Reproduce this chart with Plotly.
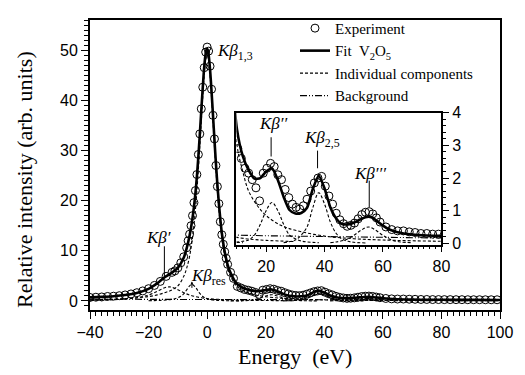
import plotly.graph_objects as go

# ---------------- data ----------------
# measured spectrum (open circles)
exp_x = [-40, -38, -36, -34, -32, -30, -28, -26, -24, -22, -20, -18, -16, -14, -12,
         -11, -10, -9, -8, -7, -6.5, -6, -5.5, -5, -4.5, -4, -3.5, -3, -2.5, -2,
         -1.5, -1, -0.5, 0, 0.5, 1, 1.5, 2, 2.5, 3, 3.5, 4, 4.5, 5, 5.5,
         6, 6.5, 7, 8, 9, 10.3, 11.5, 12.75, 14, 15.25, 16.5, 17.75, 19, 20.25,
         21.5, 22.75, 24, 25.25, 26.5, 27.75, 29, 30.25, 31.5, 32.75, 34, 35.25,
         36.5, 37.75, 39, 40.25, 41.5, 42.75, 44, 45.25, 46.5, 47.75, 49, 50.25,
         51.5, 52.75, 54, 55.25, 56.5, 57.75, 59, 61, 63, 65, 67, 69, 71, 73, 75,
         77, 79, 81, 83, 85, 87, 89, 91, 93, 95, 97, 99]
exp_y = [0.7, 0.75, 0.8, 0.9, 0.95, 1.05, 1.2, 1.4, 1.65, 2.0, 2.45, 3.1, 3.9, 4.9, 5.7,
         6.0, 6.6, 7.6, 8.8, 10.6, 12.0, 13.3, 15.0, 17.0, 19.6, 22.0, 25.2, 29.2, 33.3, 38.3,
         42.6, 46.5, 49.6, 50.6, 49.8, 46.8, 42.2, 37.0, 32.3, 27.0, 22.8, 19.4, 15.8, 13.2, 11.3,
         9.8, 8.5, 7.3, 5.7, 4.5, 2.9, 2.6, 2.3, 2.15, 1.95, 1.7, 1.3, 2.15, 2.3,
         2.45, 2.35, 2.1, 1.95, 1.65, 1.4, 1.2, 1.1, 1.05, 1.15, 1.35, 1.6,
         1.85, 2.0, 2.05, 1.75, 1.45, 1.2, 0.92, 0.72, 0.6, 0.52, 0.55, 0.62,
         0.75, 0.88, 0.95, 0.97, 0.9, 0.78, 0.65, 0.5, 0.42, 0.38, 0.38, 0.35, 0.33, 0.3, 0.3,
         0.28, 0.28, 0.27, 0.27, 0.26, 0.26, 0.25, 0.25, 0.25, 0.24, 0.24, 0.24]

# total fit curve
fit_x = [-40, -36, -32, -28, -24, -20, -17, -14.5, -12, -10,
         -8, -7, -6, -5, -4, -3.5, -3, -2.5, -2, -1.5,
         -1, -0.5, 0, 0.5, 1, 1.5, 2, 2.5, 3, 3.5,
         4, 4.5, 5, 6, 7, 8, 10, 12, 14, 16,
         18, 20, 22, 24, 26, 28, 30, 32, 34, 36,
         38, 40, 42, 44, 46, 48, 50, 52, 54, 56,
         58, 60, 62, 65, 70, 75, 80, 90, 100]
fit_y = [0.72, 0.81, 0.95, 1.19, 1.61, 2.42, 3.55, 4.74, 5.66, 6.6,
         8.6, 10.5, 13.0, 16.5, 21.5, 24.8, 28.8, 33.2, 38.0, 42.5,
         46.6, 49.3, 50.2, 49.1, 46.1, 41.8, 37.0, 32.1, 27.4, 23.2,
         19.5, 16.3, 13.6, 9.8, 7.2, 5.6, 3.5, 2.67, 2.24, 1.98,
         2.0, 2.2, 2.3, 1.94, 1.42, 1.02, 0.91, 0.93, 1.09, 1.67,
         2.07, 1.68, 1.1, 0.76, 0.59, 0.58, 0.63, 0.72, 0.8, 0.8,
         0.68, 0.54, 0.43, 0.34, 0.27, 0.24, 0.23, 0.21, 0.19]

# individual components
k13_x = [-40, -30, -24, -20, -17, -14, -12, -10, -8, -7, -6, -5, -4, -3.5, -3, -2.5, -2,
         -1.5, -1, -0.5, 0, 0.5, 1, 1.5, 2, 2.5, 3, 3.5, 4, 5, 6, 7, 8, 10, 12,
         14, 17, 20, 25, 30, 40, 50, 60, 80, 100]
k13_y = [0.22, 0.4, 0.62, 0.88, 1.21, 1.75, 2.2, 3.0, 4.9, 6.5, 8.9, 12.6, 18.2, 21.9, 26.2, 30.8, 35.8,
         40.6, 44.9, 47.9, 49.0, 47.9, 44.9, 40.6, 35.8, 30.8, 26.2, 21.9, 18.2, 12.6, 8.9, 6.5, 4.9, 3.0, 2.2,
         1.6, 1.15, 0.85, 0.55, 0.4, 0.22, 0.14, 0.1, 0.06, 0.04]

kp_x = [-40, -36, -32, -28, -24, -20, -17, -14.5, -13, -12, -10, -8, -6, -4, -2, 0, 2, 4, 6, 8, 10, 14, 20, 30]
kp_y = [0.13, 0.18, 0.25, 0.39, 0.64, 1.19, 1.94, 2.64, 2.8, 2.72, 2.24, 1.65, 1.19, 0.86, 0.64, 0.49, 0.39, 0.31,
        0.25, 0.21, 0.18, 0.13, 0.09, 0.05]

res_x = [-20, -16, -13, -11, -9, -8, -7, -6, -5.2, -4, -3.5, -3, -2.5, -2, -1.5, -1, 0, 1, 2, 3, 5, 8, 12]
res_y = [0.05, 0.12, 0.25, 0.45, 0.95, 1.4, 2.2, 3.0, 3.3, 2.75, 2.35, 1.9, 1.5, 1.15, 0.9, 0.7, 0.42, 0.27,
         0.18, 0.13, 0.08, 0.04, 0.02]

kpp_x = [8, 12, 14, 16, 18, 20, 22, 24, 26, 28, 30, 32, 34, 38]
kpp_y = [0.02, 0.06, 0.1, 0.25, 0.58, 1.0, 1.25, 1.0, 0.58, 0.25, 0.14, 0.07, 0.04, 0.02]

k25_x = [26, 30, 32, 34, 36, 38, 40, 42, 44, 46, 48, 50, 54]
k25_y = [0.02, 0.1, 0.25, 0.5, 1.1, 1.55, 1.2, 0.65, 0.3, 0.13, 0.06, 0.03, 0.01]

kppp_x = [42, 44, 47, 50, 52.5, 55, 57.5, 60, 63, 66, 70]
kppp_y = [0.02, 0.04, 0.1, 0.24, 0.4, 0.5, 0.4, 0.24, 0.1, 0.04, 0.02]

bg_x = [-40, -20, 0, 20, 40, 60, 80, 100]
bg_y = [0.35, 0.3, 0.27, 0.23, 0.2, 0.18, 0.16, 0.15]

components = [(k13_x, k13_y), (kp_x, kp_y), (res_x, res_y), (kpp_x, kpp_y), (k25_x, k25_y), (kppp_x, kppp_y)]

# axis settings
main_xrange = [-40, 100]
main_yrange = [-1.8, 56]
inset_xrange = [9.8, 80]
inset_yrange = [-0.04, 4.0]
main_xticks = [-40, -20, 0, 20, 40, 60, 80, 100]
main_yticks = [0, 10, 20, 30, 40, 50]
inset_xticks = [20, 40, 60, 80]
inset_yticks = [0, 1, 2, 3, 4]

# peak labels: (text, text x, text y, anchor)
main_labels = [
    ("<i>Kβ</i><sub>1,3</sub>", 2.6, 49.6, "left"),
    ("<i>Kβ′</i>", -16.6, 12.7, "center"),
    ("<i>Kβ</i><sub>res</sub>", -6.1, 4.8, "left"),
]
# leader lines: (x, top, bottom)
main_leaders = [(-14.6, 10.9, 4.9)]
inset_labels = [
    ("<i>Kβ′′</i>", 22.6, 3.68, "center"),
    ("<i>Kβ</i><sub>2,5</sub>", 39.0, 3.2, "center"),
    ("<i>Kβ′′′</i>", 55.6, 2.15, "center"),
]
inset_leaders = [(21.7, 3.25, 2.66), (37.6, 2.84, 2.3), (55.3, 1.92, 1.11)]
res_arrow = (-5.2, 3.9)

SERIF = "Liberation Serif"
SANS = "Liberation Sans"

fig = go.Figure()


def add_traces(xa, ya, legend):
    for i, (cx, cy) in enumerate(components):
        fig.add_trace(go.Scatter(
            x=cx, y=cy, mode="lines", line=dict(color="black", width=1.1, dash="3px,2px", shape="spline"),
            name="Individual components", legendgroup="comp", legendrank=3,
            showlegend=legend and i == 0, xaxis=xa, yaxis=ya, hoverinfo="skip"))
    fig.add_trace(go.Scatter(
        x=bg_x, y=bg_y, mode="lines",
        line=dict(color="black", width=1.1, dash="7px,2px,1px,2px,1px,2px"),
        name="Background", legendrank=4, showlegend=legend, xaxis=xa, yaxis=ya))
    fig.add_trace(go.Scatter(
        x=fit_x, y=fit_y, mode="lines", line=dict(color="black", width=2.6, shape="spline", smoothing=0.6),
        name="Fit  V<sub>2</sub>O<sub>5</sub>", legendrank=2, showlegend=legend, xaxis=xa, yaxis=ya))
    fig.add_trace(go.Scatter(
        x=exp_x, y=exp_y, mode="markers",
        marker=dict(symbol="circle-open", size=8, color="black", line=dict(width=1)),
        name="Experiment", legendrank=1, showlegend=legend, xaxis=xa, yaxis=ya))


add_traces("x", "y", True)
add_traces("x2", "y2", False)

# white panel behind the inset
fig.add_shape(type="rect", xref="x2", yref="y2",
              x0=inset_xrange[0], x1=inset_xrange[1], y0=inset_yrange[0], y1=inset_yrange[1],
              fillcolor="white", line=dict(width=0), layer="below")

for lx, ytop, ybot in main_leaders:
    fig.add_shape(type="line", xref="x", yref="y", x0=lx, x1=lx, y0=ytop, y1=ybot,
                  line=dict(color="black", width=1))
for lx, ytop, ybot in inset_leaders:
    fig.add_shape(type="line", xref="x2", yref="y2", x0=lx, x1=lx, y0=ytop, y1=ybot,
                  line=dict(color="black", width=1))

for txt, tx, ty, anc in main_labels:
    fig.add_annotation(text=txt, x=tx, y=ty, xref="x", yref="y", xanchor=anc, yanchor="middle",
                       showarrow=False, font=dict(family=SERIF, size=17, color="black"))
for txt, tx, ty, anc in inset_labels:
    fig.add_annotation(text=txt, x=tx, y=ty, xref="x2", yref="y2", xanchor=anc, yanchor="middle",
                       showarrow=False, font=dict(family=SERIF, size=17, color="black"))

# small arrow marking the resonance component
fig.add_annotation(text="", x=res_arrow[0], y=res_arrow[1], xref="x", yref="y", showarrow=True,
                   ax=0, ay=8, arrowhead=2, arrowsize=0.6, arrowwidth=1, arrowcolor="black", standoff=0)

# axis titles
fig.add_annotation(text="Energy\u00a0 (eV)", xref="paper", yref="paper", x=0.5, y=-0.162,
                   xanchor="center", yanchor="middle", showarrow=False,
                   font=dict(family=SERIF, size=22, color="black"))
fig.add_annotation(text="Relative intensity (arb. units)", xref="paper", yref="paper", x=-0.16, y=0.45,
                   xanchor="center", yanchor="middle", textangle=-90, showarrow=False,
                   font=dict(family=SERIF, size=22, color="black"))

tickfont = dict(family=SANS, size=16, color="black")
common = dict(showgrid=False, zeroline=False, showline=True, linecolor="black", mirror=True,
              ticks="outside", tickcolor="black", tickfont=tickfont)

fig.update_layout(
    width=525, height=375,
    margin=dict(l=90, r=15, t=13, b=65),
    paper_bgcolor="white", plot_bgcolor="white",
    legend=dict(x=0.5, y=1.028, xanchor="left", yanchor="top", bgcolor="rgba(0,0,0,0)",
                font=dict(family=SERIF, size=15, color="black"), itemwidth=30, tracegroupgap=0),
    xaxis=dict(domain=[0, 1], range=main_xrange, tickvals=main_xticks, linewidth=2, ticklen=7, tickwidth=1.2,
               minor=dict(dtick=2, tick0=0, ticks="outside", ticklen=4, tickcolor="black", tickwidth=1),
               anchor="y", **common),
    yaxis=dict(domain=[0, 1], range=main_yrange, tickvals=main_yticks, linewidth=2, ticklen=7, tickwidth=1.2,
               minor=dict(dtick=1, tick0=0, ticks="outside", ticklen=4, tickcolor="black", tickwidth=1),
               anchor="x", **common),
    xaxis2=dict(domain=[0.357, 0.857], range=inset_xrange, tickvals=inset_xticks, linewidth=1.5, ticklen=6,
                tickwidth=1.2, anchor="y2",
                minor=dict(dtick=2, tick0=0, ticks="outside", ticklen=3, tickcolor="black", tickwidth=1),
                **common),
    yaxis2=dict(domain=[0.2256, 0.680], range=inset_yrange, tickvals=inset_yticks, side="right",
                linewidth=1.5, ticklen=6, tickwidth=1.2, anchor="x2",
                minor=dict(dtick=0.2, tick0=0, ticks="outside", ticklen=3, tickcolor="black", tickwidth=1),
                **common),
)

fig.write_html("out.html")
